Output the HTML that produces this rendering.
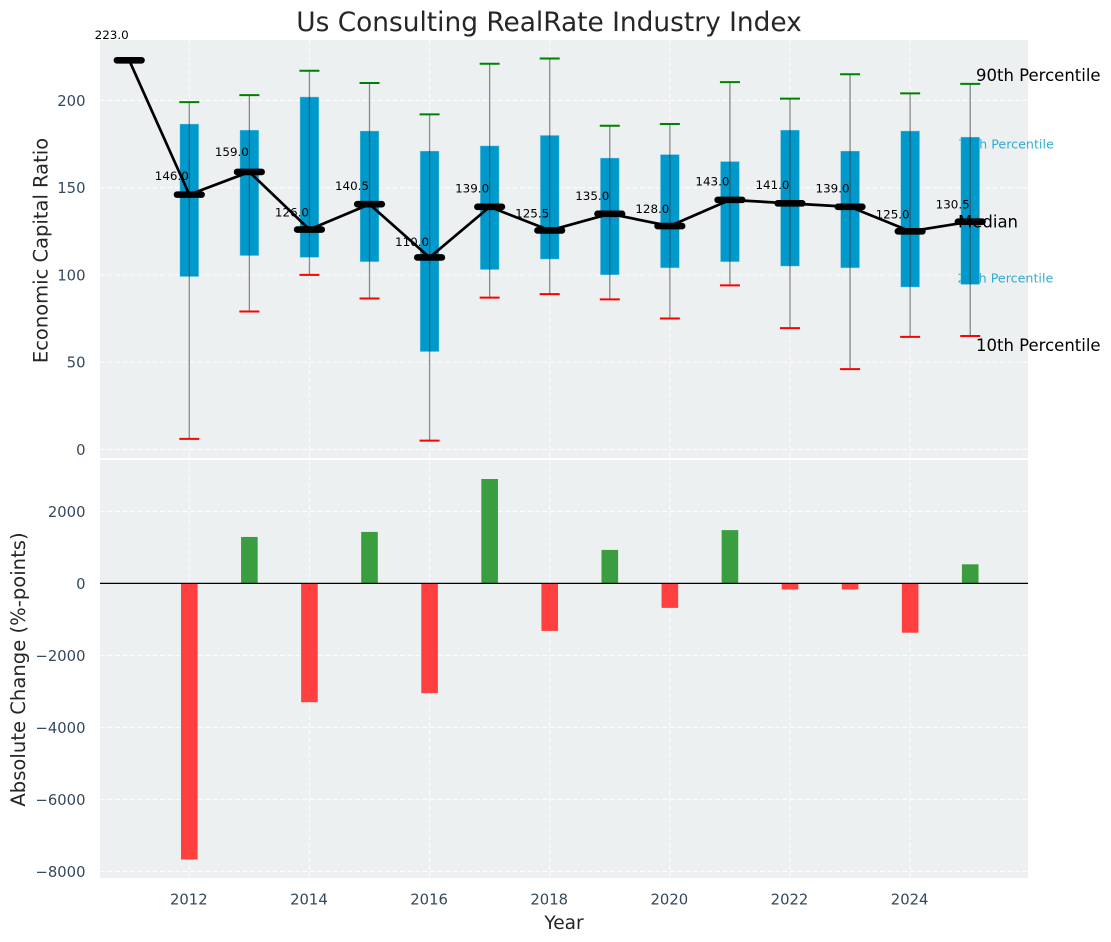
<!DOCTYPE html>
<html lang="en">
<head>
<meta charset="utf-8">
<title>Us Consulting RealRate Industry Index</title>
<style>
html,body{margin:0;padding:0;background:#fff;width:1111px;height:942px;overflow:hidden}
svg{display:block}
text{font-family:"DejaVu Sans","Liberation Sans",sans-serif}
</style>
</head>
<body>
<svg id="chart" xmlns="http://www.w3.org/2000/svg" width="1111" height="942" viewBox="0 0 1111 942"></svg>
<script>
const years = [2012,2013,2014,2015,2016,2017,2018,2019,2020,2021,2022,2023,2024,2025];
const medianYears = [2011,2012,2013,2014,2015,2016,2017,2018,2019,2020,2021,2022,2023,2024,2025];
const medians = [223,146,159,126,140.5,110,139,125.5,135,128,143,141,139,125,130.5];
const p90 = [199,203,217,210,192,221,224,185.5,186.5,210.5,201,215,204,209.5];
const p75 = [186.5,183,202,182.5,171,174,180,167,169,165,183,171,182.5,179];
const p25 = [99,111,110,107.5,56,103,109,100,104,107.5,105,104,93,94.5];
const p10 = [6,79,100,86.5,5,87,89,86,75,94,69.5,46,64.5,65];
const changes = [-7670,1290,-3300,1430,-3050,2900,-1320,930,-680,1480,-170,-170,-1370,530];
const topTicks = [0,50,100,150,200];
const bottomTicks = [-8000,-6000,-4000,-2000,0,2000];
const xTicks = [2012,2014,2016,2018,2020,2022,2024];

const NS = 'http://www.w3.org/2000/svg';
const svg = document.getElementById('chart');
const xScale = v => 189.3 + 60.07 * (v - 2012);
const yTop = v => 449.4 - 1.745 * v;
const yBottom = v => 583.4 - 0.036 * v;
const minus = v => String(v).replace('-', '\u2212');

function make(tag, attrs, text) {
  const el = document.createElementNS(NS, tag);
  for (const k in attrs) el.setAttribute(k, attrs[k]);
  if (text !== undefined) el.textContent = text;
  svg.appendChild(el);
  return el;
}

let el;
el = make('rect', {x:100, y:40, width:928, height:418, fill:'#ecf0f1'});


el = make('rect', {x:100, y:460, width:928, height:418, fill:'#ecf0f1'});



// grid lines
xTicks.forEach(t => {
  el = make('line', {x1:xScale(t), x2:xScale(t), y1:40, y2:458, stroke:'#fff', 'stroke-width':1.1, 'stroke-dasharray':'5 2.5', opacity:.8});
  
  
  el = make('line', {x1:xScale(t), x2:xScale(t), y1:460, y2:878, stroke:'#fff', 'stroke-width':1.1, 'stroke-dasharray':'5 2.5', opacity:.8});
  
  
});
topTicks.forEach(t => {
  el = make('line', {x1:100, x2:1028, y1:yTop(t), y2:yTop(t), stroke:'#fff', 'stroke-width':1.1, 'stroke-dasharray':'5 2.5', opacity:.8});
  
  
  el = make('text', {x:85.5, y:yTop(t) + 5.5, 'text-anchor':'end', 'font-size':14.8, fill:'#34495e'}, minus(t));
  
  
});
bottomTicks.forEach(t => {
  el = make('line', {x1:100, x2:1028, y1:yBottom(t), y2:yBottom(t), stroke:'#fff', 'stroke-width':1.1, 'stroke-dasharray':'5 2.5', opacity:.8});
  
  
  el = make('text', {x:85.5, y:yBottom(t) + 5.5, 'text-anchor':'end', 'font-size':14.8, fill:'#34495e'}, minus(t));
  
  
});
xTicks.forEach(t => {
  el = make('text', {x:xScale(t) - 0.5, y:904.5, 'text-anchor':'middle', 'font-size':14.8, fill:'#34495e'}, t);
  
  
});

// annotations that sit beneath the last box
el = make('text', {x:958, y:148.5, 'font-size':12.7, fill:'#0099cc', opacity:.8}, '75th Percentile');


el = make('text', {x:957.5, y:282.5, 'font-size':12.7, fill:'#0099cc', opacity:.8}, '25th Percentile');



// boxes
years.forEach((y, i) => {
  const x = xScale(y);
  el = make('rect', {x:x - 9.5, y:yTop(p75[i]), width:19, height:yTop(p25[i]) - yTop(p75[i]), fill:'#0099cc', stroke:'#bfe3ef', 'stroke-opacity':.5, 'stroke-width':.8});
  
  
});
// whiskers and caps
years.forEach((y, i) => {
  const x = xScale(y);
  el = make('line', {x1:x, x2:x, y1:yTop(p90[i]), y2:yTop(p10[i]), stroke:'#333', 'stroke-opacity':.55, 'stroke-width':1.3});
  
  
  el = make('line', {x1:x - 10, x2:x + 10, y1:yTop(p90[i]), y2:yTop(p90[i]), stroke:'#008000', 'stroke-width':2});
  
  
  el = make('line', {x1:x - 10, x2:x + 10, y1:yTop(p10[i]), y2:yTop(p10[i]), stroke:'#ff0000', 'stroke-width':2});
  
  
});

el = make('text', {x:958, y:227.5, 'font-size':16.5, fill:'#000'}, 'Median');



// median line
el = make('polyline', {points:medianYears.map((y, i) => xScale(y) + ',' + yTop(medians[i])).join(' '), fill:'none', stroke:'#000', 'stroke-width':2.7, 'stroke-linejoin':'round'});



medianYears.forEach((y, i) => {
  const x = xScale(y), yy = yTop(medians[i]);
  el = make('line', {x1:x - 12.3, x2:x + 12.3, y1:yy, y2:yy, stroke:'#000', 'stroke-width':6.6, 'stroke-linecap':'round'});
  
  
  el = make('text', {x:x - 0.5, y:yTop(medians[i] * 1.05) - 2, 'text-anchor':'end', 'font-size':11.9, fill:'#000'}, medians[i].toFixed(1));
  
  
});

el = make('text', {x:976, y:81, 'font-size':16.5, fill:'#000'}, '90th Percentile');


el = make('text', {x:976, y:351, 'font-size':16.5, fill:'#000'}, '10th Percentile');



// change bars
years.forEach((y, i) => {
  const v = changes[i], x = xScale(y);
  el = make('rect', {x:x - 8.3, y:Math.min(yBottom(v), yBottom(0)), width:16.6, height:Math.abs(yBottom(v) - yBottom(0)), fill:v >= 0 ? '#3a9d3f' : '#ff4040'});
  
  
});
el = make('line', {x1:100, x2:1028, y1:yBottom(0), y2:yBottom(0), stroke:'#000', 'stroke-width':1.2});



// titles
el = make('text', {x:549, y:31, 'text-anchor':'middle', 'font-size':26.4, fill:'#262626'}, 'Us Consulting RealRate Industry Index');


el = make('text', {x:564, y:929, 'text-anchor':'middle', 'font-size':18.6, fill:'#262626'}, 'Year');


el = make('text', {transform:'translate(47.5,250.5) rotate(-90)', 'text-anchor':'middle', 'font-size':19.5, fill:'#262626'}, 'Economic Capital Ratio');


el = make('text', {transform:'translate(25,669.5) rotate(-90)', 'text-anchor':'middle', 'font-size':19.6, fill:'#262626'}, 'Absolute Change (%-points)');


</script>
</body>
</html>
